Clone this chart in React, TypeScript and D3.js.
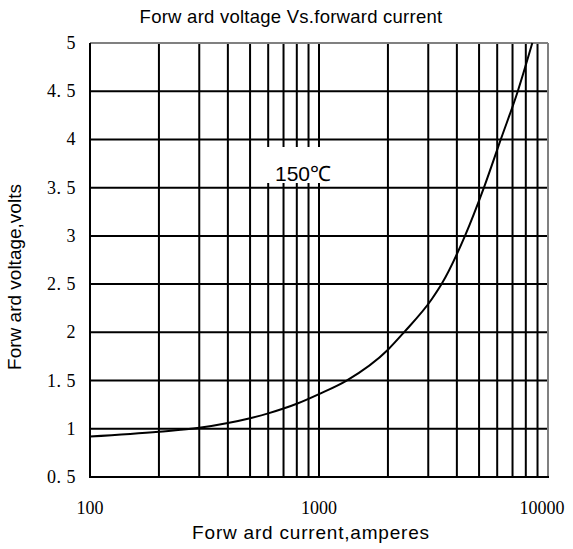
import React from "react";
import * as d3 from "d3";

const currents = [100, 200, 300, 400, 500, 600, 700, 800, 1000, 1320, 2000, 2350, 3100, 3430, 4340, 5250, 6220, 7380, 8540];
const voltages = [0.92, 0.97, 1.01, 1.06, 1.11, 1.16, 1.21, 1.26, 1.36, 1.5, 1.82, 2.0, 2.34, 2.5, 3.0, 3.5, 4.0, 4.5, 5.0];
const xGrid = [200, 300, 400, 500, 600, 700, 800, 900, 1000, 2000, 3000, 4000, 5000, 6000, 7000, 8000, 9000];
const xTickLabels = [100, 1000, 10000];
const yTicks = [0.5, 1, 1.5, 2, 2.5, 3, 3.5, 4, 4.5, 5];
const yTickLabels = ["0. 5", "1", "1. 5", "2", "2. 5", "3", "3. 5", "4", "4. 5", "5"];
const yGrid = [1, 1.5, 2, 2.5, 3, 3.5, 4, 4.5];

const title = "Forw ard voltage Vs.forward current";
const xLabel = "Forw ard current,amperes";
const yLabel = "Forw ard voltage,volts";
const tempLabel = "150℃";

export default function App() {
  const W = 573, H = 549;
  const left = 90, right = 548, top = 43, bottom = 477;
  const x = d3.scaleLog().domain([100, 10000]).range([left, right]);
  const y = d3.scaleLinear().domain([0.5, 5]).range([bottom, top]);
  const pts: [number, number][] = currents.map((c, i) => [c, voltages[i]]);
  const line = d3.line<[number, number]>().x(d => x(d[0])).y(d => y(d[1])).curve(d3.curveMonotoneX);
  const serif = "'Liberation Serif', 'Times New Roman', serif";
  const sans = "'Liberation Sans', Arial, sans-serif";

  return (
    <svg width={W} height={H} style={{ position: "absolute", left: 0, top: 0, background: "#fff" }}>
      <rect x={0} y={0} width={W} height={H} fill="#fff" />
      {yGrid.map(v => (
        <line key={"h" + v} x1={left} x2={right} y1={y(v)} y2={y(v)} stroke="#000" strokeWidth={2} />
      ))}
      {xGrid.map(v => (
        <line key={"v" + v} x1={x(v)} x2={x(v)} y1={top} y2={bottom} stroke="#000" strokeWidth={2} />
      ))}
      <line x1={left} x2={right} y1={top} y2={top} stroke="#808080" strokeWidth={2} />
      <line x1={right} x2={right} y1={top} y2={bottom} stroke="#808080" strokeWidth={2} />
      <line x1={left} x2={left} y1={top} y2={bottom + 1} stroke="#000" strokeWidth={2} />
      <line x1={left} x2={right + 1} y1={bottom} y2={bottom} stroke="#000" strokeWidth={2} />
      <rect x={262} y={147} width={80} height={36} fill="#fff" />
      <text x={275} y={181} fontFamily={sans} fontSize={21} fill="#000">{tempLabel}</text>
      <path d={line(pts) || ""} fill="none" stroke="#000" strokeWidth={2} />
      {yTicks.map((v, i) => (
        <text key={"yl" + v} x={76} y={y(v) + 6} textAnchor="end" fontFamily={serif} fontSize={18} letterSpacing={0.5} fill="#000">{yTickLabels[i]}</text>
      ))}
      {xTickLabels.map((v, i) => (
        <text key={"xl" + v} x={x(v) - (i === 2 ? 6 : 0)} y={514} textAnchor="middle" fontFamily={serif} fontSize={18} fill="#000">{v}</text>
      ))}
      <text x={291} y={23} textAnchor="middle" fontFamily={sans} fontSize={18.5} letterSpacing={0.25} fill="#000">{title}</text>
      <text x={311} y={539} textAnchor="middle" fontFamily={sans} fontSize={19} letterSpacing={0.8} fill="#000">{xLabel}</text>
      <text transform={`translate(21,277) rotate(-90)`} textAnchor="middle" fontFamily={sans} fontSize={19} fill="#000">{yLabel}</text>
    </svg>
  );
}
